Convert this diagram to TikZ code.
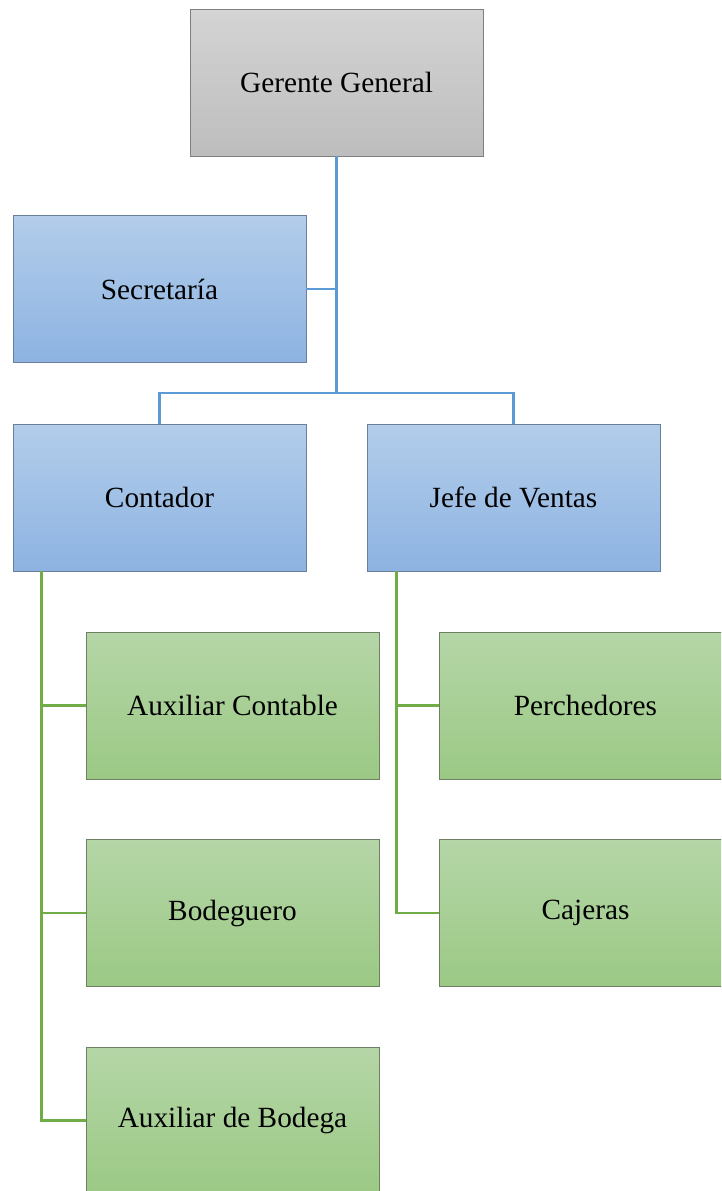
\documentclass[tikz,border=0pt]{standalone}
\usepackage{fontspec}
\setmainfont{Liberation Serif}
\definecolor{grayTop}{HTML}{D4D4D4}
\definecolor{grayBot}{HTML}{BDBDBD}
\definecolor{blueTop}{HTML}{B3CDEA}
\definecolor{blueBot}{HTML}{8DB3E2}
\definecolor{greenTop}{HTML}{B5D6A7}
\definecolor{greenBot}{HTML}{9BC985}
\definecolor{blueLine}{HTML}{5B9BD5}
\definecolor{greenLine}{HTML}{70AD47}
\definecolor{boxEdge}{HTML}{7F7F7F}
\definecolor{blueEdge}{HTML}{6A7F9A}
\definecolor{greenEdge}{HTML}{6E8063}
\tikzset{
  orgbox/.style={rectangle, minimum width=293pt, minimum height=147pt,
    inner sep=0pt, line width=0.9pt,
    font=\fontsize{29.3}{34}\selectfont},
  topbox/.style={orgbox, draw=boxEdge, top color=grayTop, bottom color=grayBot},
  midbox/.style={orgbox, draw=blueEdge, top color=blueTop, bottom color=blueBot},
  lowbox/.style={orgbox, draw=greenEdge, top color=greenTop, bottom color=greenBot},
  blink/.style={draw=blueLine, line width=2.3pt},
  glink/.style={draw=greenLine, line width=2.3pt},
}
\begin{document}
\begin{tikzpicture}[x=1pt,y=-1pt]
\useasboundingbox (0,0) rectangle (721,1191);
\clip (0,0) rectangle (721,1191);

% upper levels
\node[topbox] (ger) at (336.5,82.5) {Gerente General};
\node[midbox] (sec) at (159.5,289) {Secretaría};
\node[midbox] (cont) at (159.5,497.5) {Contador};
\node[midbox] (jefe) at (513.5,497.5) {Jefe de Ventas};

% staff under Contador
\node[lowbox] (auxc) at (232.5,705.5) {Auxiliar Contable};
\node[lowbox] (bod) at (232.5,913) {Bodeguero};
\node[lowbox] (auxb) at (232.5,1120.5) {Auxiliar de Bodega};

% staff under Jefe de Ventas
\node[lowbox] (per) at (585.5,705.5) {Perchedores};
\node[lowbox] (caj) at (585.5,913) {Cajeras};

% blue connectors
\coordinate (bus) at (336.5,393);
\draw[blink] (ger.south) |- (sec.east);
\draw[blink] (ger.south) -- (bus);
\draw[blink] (bus) -| (cont.north);
\draw[blink] (bus) -| (jefe.north);

% green connectors
\draw[glink] ([xshift=29pt]cont.south west) |- (auxc.west);
\draw[glink] ([xshift=29pt]cont.south west) |- (bod.west);
\draw[glink] ([xshift=29pt]cont.south west) |- (auxb.west);
\draw[glink] ([xshift=30pt]jefe.south west) |- (per.west);
\draw[glink] ([xshift=30pt]jefe.south west) |- (caj.west);
\end{tikzpicture}
\end{document}
